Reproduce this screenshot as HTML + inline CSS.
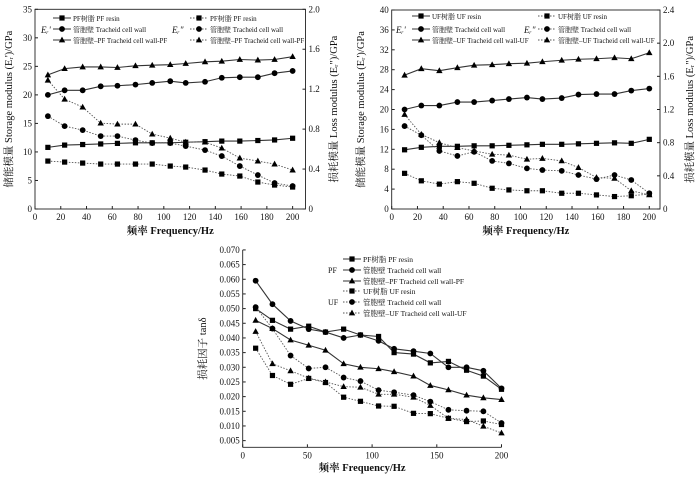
<!DOCTYPE html>
<html><head><meta charset="utf-8"><style>
html,body{margin:0;padding:0;background:#fff}
svg{display:block;font-family:"Liberation Serif","Noto Serif CJK SC",serif}
</style></head><body>
<svg id="s" width="700" height="479" viewBox="0 0 700 479"></svg>
<script>
const freq=[10,23,37,51,64,78,91,105,117,132,145,159,173,186,200];
// Chart 1 (PF)
const pfResinE1=[10.8,11.2,11.3,11.4,11.5,11.6,11.6,11.6,11.7,11.8,11.9,11.9,12,12.1,12.4];
const cellE1=[20,20.8,20.8,21.5,21.6,21.8,22.1,22.4,22.1,22.3,23,23.1,23.1,23.8,24.2];
const cellPfE1=[23.5,24.6,24.9,24.9,24.8,25.1,25.2,25.3,25.5,25.8,25.9,26.2,26.1,26.2,26.7];
const pfResinE2=[.48,.47,.46,.45,.45,.45,.45,.43,.42,.39,.35,.33,.27,.24,.22];
const cellE2a=[.93,.83,.79,.73,.73,.69,.66,.66,.63,.59,.53,.43,.34,.26,.23];
const cellPfE2=[1.29,1.10,1.02,.86,.85,.85,.75,.71,.67,.67,.61,.51,.48,.45,.39];
// Chart 2 (UF)
const ufResinE1=[11.9,12.4,12.6,12.6,12.7,12.7,12.8,12.9,13,13,13.1,13.2,13.3,13.2,14];
const cellE1b=[20,20.8,20.8,21.5,21.5,21.8,22.1,22.4,22.1,22.3,23,23.1,23.1,23.8,24.2];
const cellUfE1=[26.9,28.2,27.8,28.4,28.9,29,29.2,29.3,29.6,29.9,30.1,30.2,30.4,30.2,31.4];
const ufResinE2=[.43,.34,.30,.33,.31,.25,.23,.22,.22,.19,.19,.17,.15,.16,.18];
const cellE2b=[1.0,.89,.70,.64,.69,.58,.55,.49,.47,.46,.41,.36,.41,.35,.19];
const cellUfE2=[1.14,.90,.80,.74,.70,.66,.65,.60,.61,.58,.50,.38,.37,.22,.17];
// Chart 3 tan delta
const tPfResin=[.050,.046,.043,.044,.042,.043,.041,.0405,.035,.0345,.0315,.032,.029,.027,.0225];
const tPfCell=[.0595,.0515,.0458,.043,.042,.040,.041,.039,.0363,.0355,.0347,.030,.030,.0288,.0228];
const tPfCellPf=[.046,.0432,.0393,.0375,.0358,.0312,.030,.0295,.0285,.027,.0238,.0223,.0205,.0196,.019];
const tUfResin=[.0365,.0272,.0242,.0262,.0248,.0198,.0184,.0168,.0167,.0143,.0142,.0126,.0115,.0117,.0105];
const tUfCell=[.0505,.0432,.034,.0296,.03,.0265,.0253,.0222,.0215,.0205,.0183,.0155,.0152,.015,.011];
const tUfCellUf=[.0422,.0312,.0288,.0263,.025,.0234,.0232,.0208,.0208,.0198,.017,.0126,.0122,.0099,.0076];
const xTicks1=[0,20,40,60,80,100,120,140,160,180,200];
const y1Ticks=[0,5,10,15,20,25,30,35];
const y1rTicks=[0,0.4,0.8,1.2,1.6,2.0];
const y2Ticks=[0,4,8,12,16,20,24,28,32,36,40];
const y2rTicks=[0,0.4,0.8,1.2,1.6,2.0,2.4];
const xTicks3=[0,50,100,150,200];
const y3Ticks=[0.005,0.010,0.015,0.020,0.025,0.030,0.035,0.040,0.045,0.050,0.055,0.060,0.065,0.070];

const S=document.getElementById('s');const NS='http://www.w3.org/2000/svg';
function el(t,a,p){const e=document.createElementNS(NS,t);for(const k in a)e.setAttribute(k,a[k]);(p||S).appendChild(e);return e;}
function txt(x,y,s,a,name){const e=el('text',Object.assign({x:x,y:y,'font-size':9,fill:'#111'},a||{}));e.textContent=s;

return e;}
function marker(g,x,y,m){let e;
if(m==='s')e=el('rect',{x:x-2.6,y:y-2.6,width:5.2,height:5.2,fill:'#000'},g);
else if(m==='c')e=el('circle',{cx:x,cy:y,r:2.9,fill:'#000'},g);
else e=el('polygon',{points:`${x},${y-3.4} ${x-3.2},${y+2.4} ${x+3.2},${y+2.4}`,fill:'#000'},g);

}
function series(xs,ys,sx,sy,m,dash,name){const g=el('g',{});


const pts=xs.map((x,i)=>sx(x)+','+sy(ys[i])).join(' ');
el('polyline',{points:pts,fill:'none',stroke:dash?'#555':'#333','stroke-width':dash?0.9:1.1,'stroke-dasharray':dash?'1.5,1.5':'none'},g);
xs.forEach((x,i)=>marker(g,sx(x),sy(ys[i]),m));}
function legend(x,y,m,dash,label,name,fs){const g=el('g',{});


el('line',{x1:x,y1:y,x2:x+18,y2:y,stroke:dash?'#555':'#333','stroke-width':0.9,'stroke-dasharray':dash?'1.5,1.5':'none'},g);
marker(g,x+9,y,m);const t=el('text',{x:x+20,y:y+2.8,'font-size':fs||7.5,fill:'#111'},g);t.textContent=label;}
function axesBox(L,R,T,B,name){const r=el('rect',{x:L,y:T,width:R-L,height:B-T,fill:'none',stroke:'#222','stroke-width':0.9});

}

// ---- Chart 1
(function(){const L=35,R=305.5,T=9.3,B=209,xmax=210;
const sx=v=>L+v/xmax*(R-L), sy=v=>B-v/35*(B-T), sy2=v=>B-v/2*(B-T);
axesBox(L,R,T,B,'chart1-plot-area');
xTicks1.forEach(v=>{el('line',{x1:sx(v),y1:B,x2:sx(v),y2:B-3,stroke:'#222'});txt(sx(v),B+11,v,{'text-anchor':'middle'},'x-tick-label');});
y1Ticks.forEach(v=>{el('line',{x1:L,y1:sy(v),x2:L+3,y2:sy(v),stroke:'#222'});txt(L-3,sy(v)+3,v,{'text-anchor':'end'},'y-tick-label');});
y1rTicks.forEach(v=>{el('line',{x1:R,y1:sy2(v),x2:R-3,y2:sy2(v),stroke:'#222'});txt(R+3,sy2(v)+3,v===0?'0':v.toFixed(1),{},'y2-tick-label');});
txt((L+R)/2,234,'频率 Frequency/Hz',{'text-anchor':'middle','font-size':10.5,'font-weight':'bold'},'x-axis-title');
txt(0,0,"储能模量 Storage modulus (Eᵣ')/GPa",{'text-anchor':'middle','font-size':10.5,transform:`translate(12,${(T+B)/2}) rotate(-90)`},'y-axis-title');
txt(0,0,'损耗模量 Loss modulus (Eᵣ")/GPa',{'text-anchor':'middle','font-size':10.5,transform:`translate(337,${(T+B)/2}) rotate(-90)`},'y2-axis-title');
series(freq,pfResinE1,sx,sy,'s',0,'pf-resin-storage');series(freq,cellE1,sx,sy,'c',0,'cell-wall-storage');series(freq,cellPfE1,sx,sy,'t',0,'cell-wall-pf-storage');
series(freq,pfResinE2,sx,sy2,'s',1,'pf-resin-loss');series(freq,cellE2a,sx,sy2,'c',1,'cell-wall-loss');series(freq,cellPfE2,sx,sy2,'t',1,'cell-wall-pf-loss');
legend(53,18,'s',0,'PF树脂 PF resin','legend-pf-resin',7);legend(53,29,'c',0,'管胞壁 Tracheid cell wall','legend-cell-wall',7);legend(53,40,'t',0,'管胞壁–PF Tracheid cell wall-PF','legend-cell-wall-pf',7);
legend(190,18,'s',1,'PF树脂 PF resin','legend-pf-resin-loss',7);legend(190,29,'c',1,'管胞壁 Tracheid cell wall','legend-cell-wall-loss',7);legend(190,40,'t',1,'管胞壁–PF Tracheid cell wall-PF','legend-cell-wall-pf-loss',7);
txt(41,33,"Eᵣ'",{'font-size':9,'font-style':'italic'},'storage-label');txt(172,33,'Eᵣ"',{'font-size':9,'font-style':'italic'},'loss-label');
})();
// ---- Chart 2
(function(){const L=391.7,R=660,T=10,B=209;
const sx=v=>L+v/200*(649.3-L), sy=v=>B-v/40*(B-T), sy2=v=>B-v/2.4*(B-T);
axesBox(L,R,T,B,'chart2-plot-area');
xTicks1.forEach(v=>{el('line',{x1:sx(v),y1:B,x2:sx(v),y2:B-3,stroke:'#222'});txt(sx(v),B+11,v,{'text-anchor':'middle'},'x-tick-label');});
y2Ticks.forEach(v=>{el('line',{x1:L,y1:sy(v),x2:L+3,y2:sy(v),stroke:'#222'});txt(L-3,sy(v)+3,v,{'text-anchor':'end'},'y-tick-label');});
y2rTicks.forEach(v=>{el('line',{x1:R,y1:sy2(v),x2:R-3,y2:sy2(v),stroke:'#222'});txt(R+3,sy2(v)+3,v===0?'0':v.toFixed(1),{},'y2-tick-label');});
txt((L+R)/2,234,'频率 Frequency/Hz',{'text-anchor':'middle','font-size':10.5,'font-weight':'bold'},'x-axis-title');
txt(0,0,"储能模量 Storage modulus (Eᵣ')/GPa",{'text-anchor':'middle','font-size':10.5,transform:`translate(364,${(T+B)/2}) rotate(-90)`},'y-axis-title');
txt(0,0,'损耗模量 Loss modulus (Eᵣ")/GPa',{'text-anchor':'middle','font-size':10.5,transform:`translate(693,${(T+B)/2}) rotate(-90)`},'y2-axis-title');
series(freq,ufResinE1,sx,sy,'s',0,'uf-resin-storage');series(freq,cellE1b,sx,sy,'c',0,'cell-wall-storage');series(freq,cellUfE1,sx,sy,'t',0,'cell-wall-uf-storage');
series(freq,ufResinE2,sx,sy2,'s',1,'uf-resin-loss');series(freq,cellE2b,sx,sy2,'c',1,'cell-wall-loss');series(freq,cellUfE2,sx,sy2,'t',1,'cell-wall-uf-loss');
legend(412,16,'s',0,'UF树脂 UF resin','legend-uf-resin',7);legend(412,29,'c',0,'管胞壁 Tracheid cell wall','legend-cell-wall',7);legend(412,40,'t',0,'管胞壁–UF Tracheid cell wall-UF','legend-cell-wall-uf',7);
legend(538,16,'s',1,'UF树脂 UF resin','legend-uf-resin-loss',7);legend(538,29,'c',1,'管胞壁 Tracheid cell wall','legend-cell-wall-loss',7);legend(538,40,'t',1,'管胞壁–UF Tracheid cell wall-UF','legend-cell-wall-uf-loss',7);
txt(396,33,"Eᵣ'",{'font-size':9,'font-style':'italic'},'storage-label');txt(524,33,'Eᵣ"',{'font-size':9,'font-style':'italic'},'loss-label');
})();
// ---- Chart 3
(function(){const L=242.7,R=501.5,T=250,B=447.3;
const sx=v=>L+v/200*(R-L), sy=v=>455.3-v/0.005*14.67;
el('line',{x1:L,y1:T,x2:L,y2:B,stroke:'#222','stroke-width':0.9});el('line',{x1:L,y1:B,x2:R,y2:B,stroke:'#222','stroke-width':0.9});
xTicks3.forEach(v=>{el('line',{x1:sx(v),y1:B,x2:sx(v),y2:B-3,stroke:'#222'});txt(sx(v),B+11,v,{'text-anchor':'middle'},'x-tick-label');});
y3Ticks.forEach(v=>{el('line',{x1:L,y1:sy(v),x2:L+3,y2:sy(v),stroke:'#222'});txt(L-3,sy(v)+3,v.toFixed(3),{'text-anchor':'end'},'y-tick-label');});
txt((L+R)/2-10,471,'频率 Frequency/Hz',{'text-anchor':'middle','font-size':10.5,'font-weight':'bold'},'x-axis-title');
txt(0,0,'损耗因子 tanδ',{'text-anchor':'middle','font-size':10.5,transform:`translate(206,${(T+B)/2}) rotate(-90)`},'y-axis-title');
series(freq,tPfResin,sx,sy,'s',0,'pf-resin-tan');series(freq,tPfCell,sx,sy,'c',0,'pf-cell-wall-tan');series(freq,tPfCellPf,sx,sy,'t',0,'cell-wall-pf-tan');
series(freq,tUfResin,sx,sy,'s',1,'uf-resin-tan');series(freq,tUfCell,sx,sy,'c',1,'uf-cell-wall-tan');series(freq,tUfCellUf,sx,sy,'t',1,'cell-wall-uf-tan');
legend(343,259,'s',0,'PF树脂 PF resin','legend-pf-resin');legend(343,270,'c',0,'管胞壁 Tracheid cell wall','legend-pf-cell-wall');legend(343,281,'t',0,'管胞壁–PF Tracheid cell wall-PF','legend-cell-wall-pf');
legend(343,291,'s',1,'UF树脂 UF resin','legend-uf-resin');legend(343,302,'c',1,'管胞壁 Tracheid cell wall','legend-uf-cell-wall');legend(343,313,'t',1,'管胞壁–UF Tracheid cell wall-UF','legend-cell-wall-uf');
txt(328,273,'PF',{'font-size':8},'legend-group-pf');txt(328,305,'UF',{'font-size':8},'legend-group-uf');
})();
</script>
</body></html>
